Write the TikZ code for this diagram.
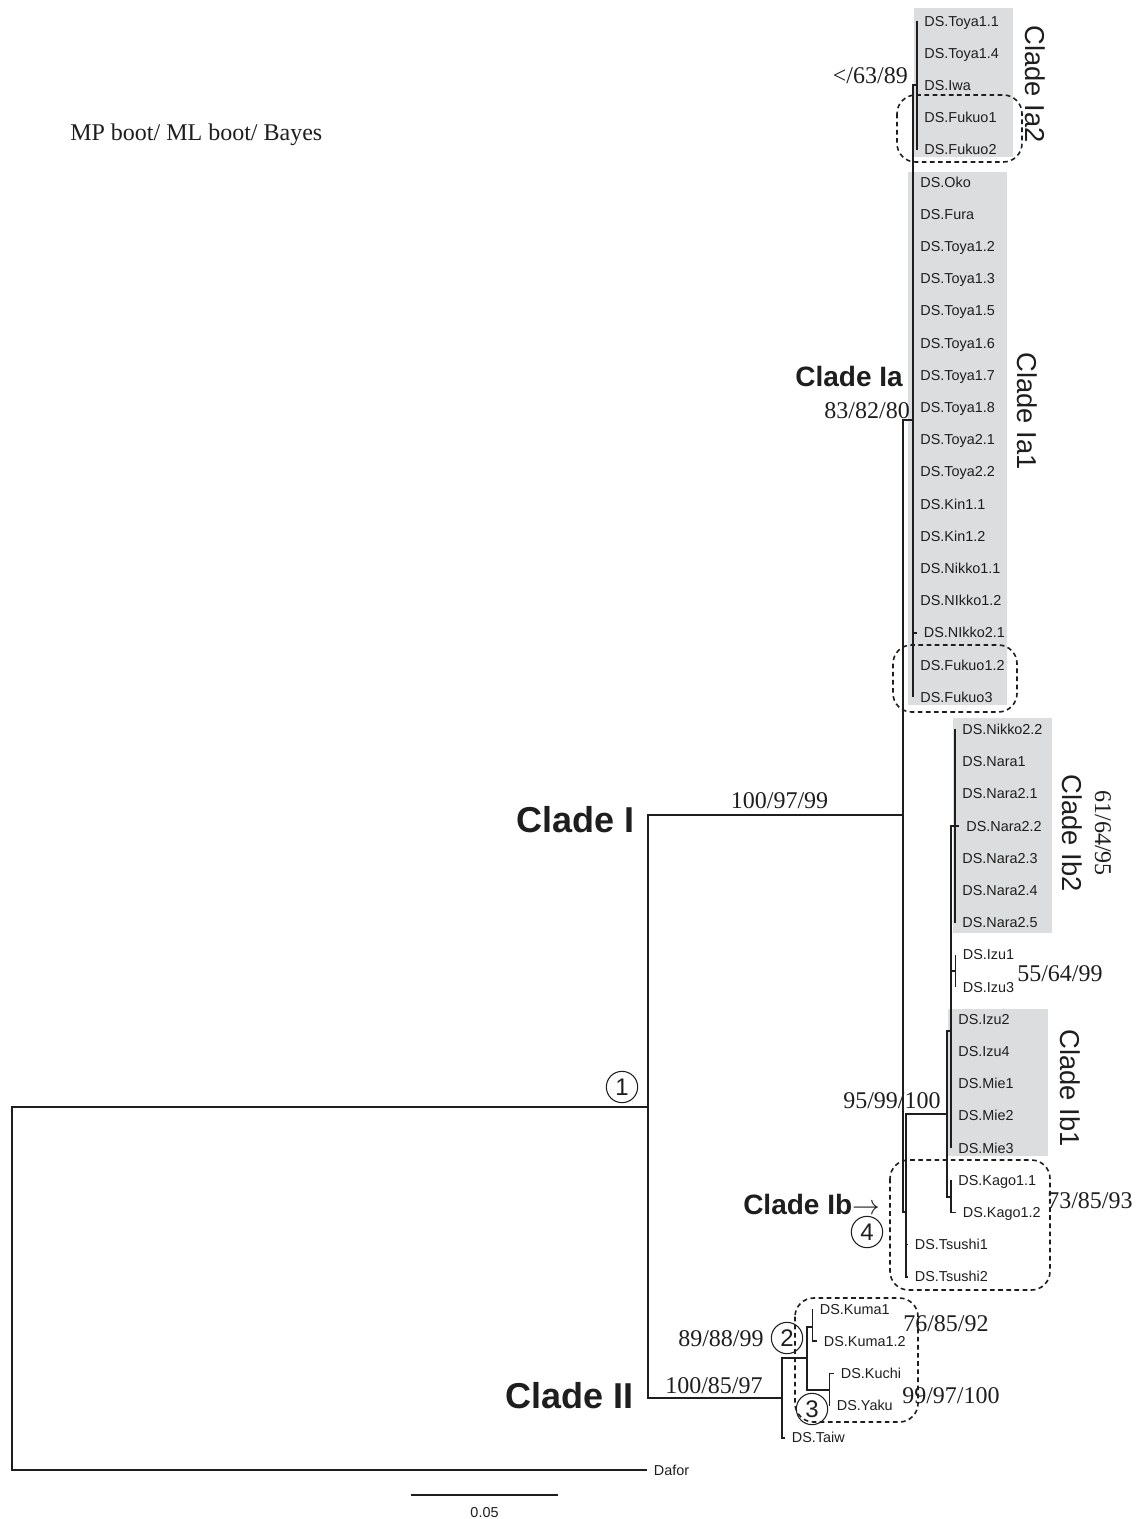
\documentclass[tikz,border=0pt]{standalone}
\usepackage{fontspec}
\setmainfont{Liberation Serif}
\setsansfont{Liberation Sans}
\usepackage{tikz}
\usetikzlibrary{positioning,calc}
\definecolor{cladegray}{RGB}{220,221,223}
\definecolor{ink}{RGB}{30,30,30}
\tikzset{
  branch/.style     = {draw=ink, line width=1.15pt},
  leaf/.style       = {font=\sffamily\fontsize{10.8}{12}\selectfont, text=ink, anchor=west, inner xsep=5.6pt, inner ysep=0pt, outer sep=0pt, text height=7.7pt, text depth=0pt},
  supp/.style       = {font=\rmfamily\fontsize{18}{20}\selectfont, text=ink, inner sep=0pt},
  cladebig/.style   = {font=\sffamily\bfseries\fontsize{27}{30}\selectfont, text=ink, inner sep=0pt},
  cladesub/.style   = {font=\sffamily\bfseries\fontsize{21}{24}\selectfont, text=ink, inner sep=0pt},
  cladeside/.style  = {font=\sffamily\fontsize{20.5}{24}\selectfont, text=ink, inner sep=0pt, rotate=-90},
  circnum/.style    = {circle, draw=ink, line width=0.8pt, minimum size=23.5pt, inner sep=0pt, font=\sffamily\fontsize{18}{18}\selectfont, text=ink},
  grpbox/.style     = {fill=cladegray, draw=none},
  dashbox/.style    = {draw=ink, line width=1.2pt, dash pattern=on 3.5pt off 2.6pt, rounded corners=14pt},
}

\begin{document}
\begin{tikzpicture}[x=0.75pt,y=-0.75pt]
  \useasboundingbox (0,0) rectangle (1136,1519);

  % shaded clades
  \fill[grpbox] (914,8) rectangle (1013,157);
  \fill[grpbox] (908,172) rectangle (1007,705);
  \fill[grpbox] (953,718) rectangle (1052,933);
  \fill[grpbox] (948,1009) rectangle (1048,1156);

  % leaves
  \foreach \nm/\txt/\tx/\i in {%
    toya11/DS.Toya1.1/917/0, toya14/DS.Toya1.4/917/1, iwa/DS.Iwa/917/2,
    fukuo1/DS.Fukuo1/917/3, fukuo2/DS.Fukuo2/917/4,
    oko/DS.Oko/913/5, fura/DS.Fura/913/6, toya12/DS.Toya1.2/913/7,
    toya13/DS.Toya1.3/913/8, toya15/DS.Toya1.5/913/9, toya16/DS.Toya1.6/913/10,
    toya17/DS.Toya1.7/913/11, toya18/DS.Toya1.8/913/12, toya21/DS.Toya2.1/913/13,
    toya22/DS.Toya2.2/913/14, kin11/DS.Kin1.1/913/15, kin12/DS.Kin1.2/913/16,
    nikko11/DS.Nikko1.1/913/17, nikko12/DS.NIkko1.2/913/18, nikko21/DS.NIkko2.1/916.5/19,
    fukuo12/DS.Fukuo1.2/913/20, fukuo3/DS.Fukuo3/913/21,
    nikko22/DS.Nikko2.2/955/22, nara1/DS.Nara1/955/23, nara21/DS.Nara2.1/955/24,
    nara22/DS.Nara2.2/959/25, nara23/DS.Nara2.3/955/26, nara24/DS.Nara2.4/955/27,
    nara25/DS.Nara2.5/955/28,
    izu1/DS.Izu1/955.5/29, izu3/DS.Izu3/955.5/30,
    izu2/DS.Izu2/951/31, izu4/DS.Izu4/951/32, mie1/DS.Mie1/951/33,
    mie2/DS.Mie2/951/34, mie3/DS.Mie3/951/35,
    kago11/DS.Kago1.1/951/36, kago12/DS.Kago1.2/955.5/37,
    tsushi1/DS.Tsushi1/907.5/38, tsushi2/DS.Tsushi2/907.5/39,
    kuma1/DS.Kuma1/812.5/40, kuma12/DS.Kuma1.2/816.5/41,
    kuchi/DS.Kuchi/833.5/42, yaku/DS.Yaku/829.5/43,
    taiw/DS.Taiw/784.5/44, dafor/Dafor/646.5/45}
  {
    \node[leaf] (\nm) at (\tx,{21+32.2*\i}) {\txt};
  }

  % internal nodes
  \coordinate (root)  at (12,1290);
  \coordinate (n1)    at (648,1107);
  \coordinate (cI)    at (903,815);
  \coordinate (ia)    at (913,420);
  \coordinate (ia2)   at (917,85);
  \coordinate (ib)    at (906,1212);
  \coordinate (n95)   at (947,1114);
  \coordinate (nA)    at (951,1031);
  \coordinate (ib2)   at (955,826);
  \coordinate (izu13) at (955.5,971);
  \coordinate (kago)  at (951,1197);
  \coordinate (cII)   at (782,1398);
  \coordinate (kk)    at (807,1358);
  \coordinate (kuma)  at (812.5,1327);
  \coordinate (ky)    at (829.5,1390);

  % branches
  \foreach \p/\c in {root/n1, n1/cI, n1/cII, cI/ia, cI/ib, ia/ia2, ib/n95,
    n95/nA, n95/kago, nA/ib2, nA/izu13, cII/kk, kk/kuma, kk/ky}
    \draw[branch] (\p) |- (\c);
  \foreach \p/\kids in {%
    root/{dafor},
    ia2/{toya11,toya14,iwa,fukuo1,fukuo2},
    ia/{oko,fura,toya12,toya13,toya15,toya16,toya17,toya18,toya21,toya22,kin11,kin12,nikko11,nikko12,nikko21,fukuo12,fukuo3},
    ib2/{nikko22,nara1,nara21,nara22,nara23,nara24,nara25},
    izu13/{izu1,izu3},
    nA/{izu2,izu4,mie1,mie2,mie3},
    kago/{kago11,kago12},
    ib/{tsushi1,tsushi2},
    kuma/{kuma1,kuma12},
    ky/{kuchi,yaku},
    cII/{taiw}}
    \foreach \c in \kids
      \draw[branch] (\p) |- (\c.west);

  % support values
  \node[supp, anchor=base west] at (70,141) {MP boot/ ML boot/ Bayes};
  \node[supp, anchor=base east] (s63) at (908,84) {</63/89};
  \node[supp, anchor=base east] (s83) at (910,418) {83/82/80};
  \node[supp, anchor=base] (s100) at (779.5,808) {100/97/99};
  \node[supp, anchor=center, rotate=-90] (s61) at (1103,833) {61/64/95};
  \node[supp, anchor=base west] (s55) at (1017,981) {55/64/99};
  \node[supp, anchor=base west] (s95) at (843,1108) {95/99/100};
  \node[supp, anchor=base west] (s73) at (1047,1208) {73/85/93};
  \node[supp, anchor=base west] (s89) at (678,1346) {89/88/99};
  \node[supp, anchor=base west] (s76) at (903,1331) {76/85/92};
  \node[supp, anchor=base west] (s99) at (902,1403) {99/97/100};
  \node[supp, anchor=base west] (s10085) at (665,1393) {100/85/97};

  % clade names
  \node[cladebig, anchor=base east] (lblI) at (635,832) {Clade I};
  \node[cladebig, anchor=base east] (lblII) at (634,1408) {Clade II};
  \node[cladesub, anchor=base east] (lblIa) at (903,386) {Clade Ia};
  \node[cladesub, anchor=base west] (lblIb) at (743,1214) {Clade Ib$\rightarrow$};
  \node[cladeside] (lblIa2) at (1035,84) {Clade Ia2};
  \node[cladeside] (lblIa1) at (1027,411) {Clade Ia1};
  \node[cladeside] (lblIb2) at (1072,833) {Clade Ib2};
  \node[cladeside] (lblIb1) at (1070,1088) {Clade Ib1};

  % numbered nodes
  \node[circnum] (c1) at (622,1087) {1};
  \node[circnum] (c2) at (787,1338) {2};
  \node[circnum] (c3) at (812,1409) {3};
  \node[circnum] (c4) at (867,1232) {4};

  % dashed groups
  \draw[dashbox] (897,95) rectangle (1022,162);
  \draw[dashbox] (893,645) rectangle (1017,712);
  \draw[dashbox] (890,1160) rectangle (1050,1290);
  \draw[dashbox] (795,1298) rectangle (918,1422);

  % scale bar
  \coordinate (sbl) at (411,1495);
  \coordinate (sbr) at (558,1495);
  \draw[branch] (sbl) -- (sbr);
  \node[leaf, anchor=center, inner xsep=0pt] (sblbl) at (484.5,1512) {0.05};
\end{tikzpicture}
\end{document}
